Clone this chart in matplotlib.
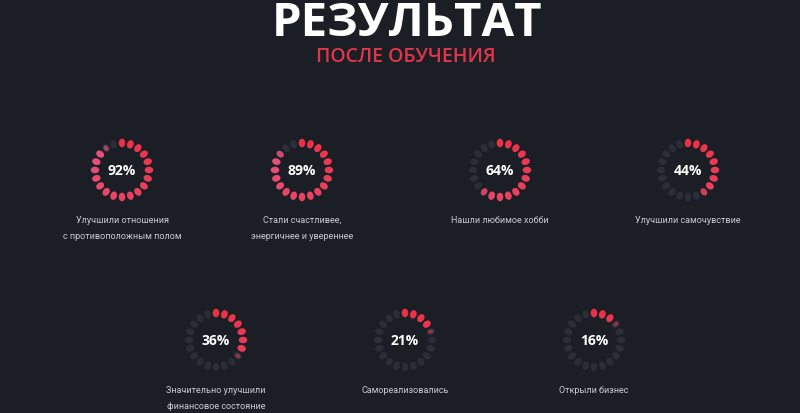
import matplotlib
matplotlib.use("Agg")
import matplotlib.pyplot as plt
from matplotlib.patches import Ellipse
import numpy as np

# ---- data ----
percents = [92, 89, 64, 44, 36, 21, 16]
labels = [
    "Улучшили отношения\nс противоположным полом",
    "Стали счастливее,\nэнергичнее и увереннее",
    "Нашли любимое хобби",
    "Улучшили самочувствие",
    "Значительно улучшили\nфинансовое состояние",
    "Самореализовались",
    "Открыли бизнес",
]
title = "РЕЗУЛЬТАТ"
subtitle = "ПОСЛЕ ОБУЧЕНИЯ"

# ---- layout (pixels) ----
W, H = 800, 413
centers = [(122, 170), (302, 170), (500, 170), (688, 170),
           (216, 340), (405, 340), (594, 340)]
N_DOTS = 20
RADIUS = 27
BG = "#1c1e25"
DIM = "#2b2e37"
RED_START = np.array([0.93, 0.19, 0.27])
RED_END = np.array([0.90, 0.33, 0.50])

fig = plt.figure(figsize=(W / 100, H / 100), dpi=100, facecolor=BG)
ax = fig.add_axes([0, 0, 1, 1])
ax.set_facecolor(BG)
ax.set_xlim(0, W)
ax.set_ylim(H, 0)
ax.axis("off")

ax.text(W / 2 + 7, 36, title, ha="center", va="baseline", color="white",
        fontsize=34, fontweight="bold", family="Open Sans")
ax.text(W / 2 + 6, 57, subtitle, ha="center", va="center", color="#e0364c",
        fontsize=14, fontweight="semibold", family="Open Sans")


def draw_ring(cx, cy, pct):
    filled = pct / 100 * N_DOTS
    for k in range(N_DOTS):
        ang = np.pi / 2 - 2 * np.pi * k / N_DOTS
        x = cx + RADIUS * np.cos(ang)
        y = cy - RADIUS * np.sin(ang)
        rot = -np.degrees(ang)
        ax.add_patch(Ellipse((x, y), 8.5, 6.5, angle=rot, color=DIM, lw=0))
        frac = min(max(filled - k, 0), 1)
        if frac > 0:
            t = k / (N_DOTS - 1)
            col = RED_START * (1 - t) + RED_END * t
            s = 0.55 + 0.45 * frac
            ax.add_patch(Ellipse((x, y), 8.5 * s, 6.5 * s, angle=rot,
                                 color=col, lw=0, alpha=0.4 + 0.6 * frac))
    ax.text(cx, cy + 1, f"{pct}%", ha="center", va="center", color="white",
            fontsize=10, fontweight="bold", family="Open Sans")


for (cx, cy), pct, lab in zip(centers, percents, labels):
    draw_ring(cx, cy, pct)
    ax.text(cx, cy + 46, lab, ha="center", va="top", color="#cacbd0",
            fontsize=6.5, family="Roboto", linespacing=2.05)

fig.savefig("out.png", dpi=100, facecolor=BG)
